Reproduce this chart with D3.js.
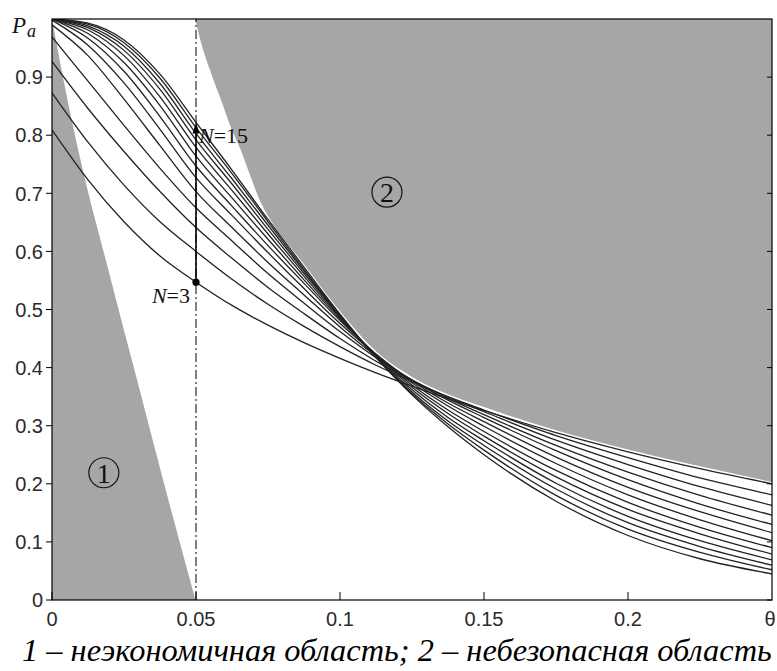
<!DOCTYPE html>
<html>
<head>
<meta charset="utf-8">
<script src="https://cdn.jsdelivr.net/npm/d3@7"></script>
<style>
  body { margin: 0; background: #fff; }
  svg { display: block; }
</style>
</head>
<body>
<svg width="777" height="671"></svg>
<script>
  // theta grid shared by all OC curves
  var theta = [0, 0.0125, 0.025, 0.0375, 0.05, 0.0625, 0.075, 0.0875, 0.1, 0.1125, 0.125, 0.1375, 0.15, 0.175, 0.2, 0.225, 0.25];

  // P_a, one list per sample size N
  var pa03 = [0.809, 0.723, 0.651, 0.592, 0.547, 0.507, 0.473, 0.443, 0.416, 0.391, 0.368, 0.346, 0.326, 0.288, 0.255, 0.226, 0.200];
  var pa04 = [0.873, 0.788, 0.714, 0.651, 0.600, 0.552, 0.509, 0.471, 0.436, 0.404, 0.376, 0.350, 0.327, 0.283, 0.245, 0.210, 0.181];
  var pa05 = [0.927, 0.846, 0.772, 0.703, 0.641, 0.588, 0.538, 0.493, 0.450, 0.411, 0.378, 0.349, 0.324, 0.275, 0.233, 0.195, 0.163];
  var pa06 = [0.969, 0.893, 0.817, 0.743, 0.675, 0.618, 0.562, 0.511, 0.462, 0.417, 0.379, 0.347, 0.319, 0.266, 0.220, 0.180, 0.146];
  var pa07 = [0.990, 0.937, 0.862, 0.782, 0.703, 0.641, 0.581, 0.525, 0.470, 0.420, 0.378, 0.344, 0.314, 0.257, 0.207, 0.165, 0.130];
  var pa08 = [0.998, 0.955, 0.890, 0.810, 0.727, 0.662, 0.598, 0.536, 0.476, 0.423, 0.377, 0.339, 0.307, 0.246, 0.194, 0.152, 0.116];
  var pa09 = [1.000, 0.967, 0.910, 0.832, 0.747, 0.678, 0.610, 0.545, 0.481, 0.423, 0.374, 0.334, 0.299, 0.235, 0.181, 0.138, 0.102];
  var pa10 = [1.000, 0.975, 0.925, 0.851, 0.764, 0.692, 0.621, 0.551, 0.484, 0.422, 0.370, 0.327, 0.290, 0.223, 0.168, 0.125, 0.090];
  var pa11 = [1.000, 0.981, 0.937, 0.866, 0.779, 0.705, 0.630, 0.557, 0.486, 0.421, 0.366, 0.321, 0.282, 0.212, 0.156, 0.114, 0.079];
  var pa12 = [1.000, 0.985, 0.946, 0.879, 0.792, 0.716, 0.638, 0.562, 0.488, 0.419, 0.362, 0.314, 0.274, 0.201, 0.144, 0.102, 0.069];
  var pa13 = [1.000, 0.988, 0.953, 0.889, 0.803, 0.725, 0.645, 0.566, 0.489, 0.418, 0.358, 0.308, 0.266, 0.191, 0.133, 0.092, 0.060];
  var pa14 = [1.000, 0.991, 0.959, 0.898, 0.813, 0.734, 0.651, 0.569, 0.490, 0.417, 0.355, 0.303, 0.258, 0.180, 0.122, 0.082, 0.052];
  var pa15 = [1.000, 0.993, 0.964, 0.905, 0.822, 0.740, 0.655, 0.573, 0.492, 0.418, 0.353, 0.298, 0.250, 0.170, 0.111, 0.071, 0.045];
  var curves = [pa03, pa04, pa05, pa06, pa07, pa08, pa09, pa10, pa11, pa12, pa13, pa14, pa15];

  // region 2 (unsafe) lower edge
  var unsafeTheta = [0.0497, 0.052, 0.055, 0.0587, 0.062, 0.0655, 0.069, 0.0725, 0.077, 0.0825, 0.0875, 0.094, 0.1, 0.1125, 0.125, 0.1375, 0.15, 0.175, 0.2, 0.225, 0.25];
  var unsafePa    = [1.0, 0.955, 0.91, 0.86, 0.815, 0.775, 0.728, 0.684, 0.645, 0.609, 0.578, 0.535, 0.497, 0.428, 0.384, 0.354, 0.332, 0.292, 0.259, 0.230, 0.203];

  // region 1 (uneconomic) right edge
  var uneconTheta = [0, 0.005, 0.01, 0.02, 0.03, 0.04, 0.0498];
  var uneconPa    = [1.0, 0.87, 0.755, 0.56, 0.37, 0.18, 0.0];

  var xTicks = [0, 0.05, 0.1, 0.15, 0.2];
  var yTicks = [0, 0.1, 0.2, 0.3, 0.4, 0.5, 0.6, 0.7, 0.8, 0.9];
  var nLow = 3, nHigh = 15, thetaMark = 0.05;
  var caption = "1 \u2013 неэкономичная область; 2 \u2013 небезопасная область";

  var svg = d3.select("svg");

  var x = d3.scaleLinear().domain([0, 0.25]).range([52, 772]);
  var y = d3.scaleLinear().domain([0, 1]).range([600, 19]);

  svg.append("defs").append("clipPath").attr("id", "plot")
    .append("rect")
      .attr("x", x(0)).attr("y", y(1))
      .attr("width", x(0.25) - x(0)).attr("height", y(0) - y(1));

  var g = svg.append("g").attr("clip-path", "url(#plot)");

  // shaded regions
  var unsafe = unsafeTheta.map(function(t, i) { return [t, unsafePa[i]]; });
  g.append("path")
    .datum(unsafe)
    .attr("fill", "#a6a6a6")
    .attr("d", d3.area()
        .curve(d3.curveMonotoneX)
        .x(function(d) { return x(d[0]); })
        .y0(y(1))
        .y1(function(d) { return y(d[1]); }));

  var unecon = uneconTheta.map(function(t, i) { return [t, uneconPa[i]]; });
  g.append("path")
    .datum(unecon)
    .attr("fill", "#a6a6a6")
    .attr("d", d3.area()
        .curve(d3.curveMonotoneX)
        .x(function(d) { return x(d[0]); })
        .y0(y(0))
        .y1(function(d) { return y(d[1]); }));

  // OC curves
  var line = d3.line()
      .curve(d3.curveMonotoneX)
      .x(function(d, i) { return x(theta[i]); })
      .y(function(d) { return y(d); });

  g.selectAll("path.oc")
    .data(curves)
    .enter().append("path")
      .attr("class", "oc")
      .attr("fill", "none")
      .attr("stroke", "#222")
      .attr("stroke-width", 1.3)
      .attr("d", line);

  // dash-dot line at theta = 0.05
  svg.append("line")
    .attr("x1", x(thetaMark)).attr("x2", x(thetaMark))
    .attr("y1", y(0)).attr("y2", y(1))
    .attr("stroke", "#000")
    .attr("stroke-width", 1)
    .attr("stroke-dasharray", "9,3,2,3");

  // arrow from N=3 to N=15
  var pLow = pa03[theta.indexOf(thetaMark)],
      pHigh = pa15[theta.indexOf(thetaMark)],
      ax = x(thetaMark);
  svg.append("line")
    .attr("x1", ax).attr("x2", ax)
    .attr("y1", y(pLow)).attr("y2", y(pHigh) + 6)
    .attr("stroke", "#000")
    .attr("stroke-width", 1.6);
  svg.append("path")
    .attr("fill", "#000")
    .attr("d", "M" + ax + "," + y(pHigh) + "L" + (ax - 3.5) + "," + (y(pHigh) + 11) + "L" + (ax + 3.5) + "," + (y(pHigh) + 11) + "Z");
  svg.append("circle")
    .attr("cx", ax).attr("cy", y(pLow)).attr("r", 3.6)
    .attr("fill", "#000");

  var serif = "'Liberation Serif', 'DejaVu Serif', serif";
  var sans = "'Liberation Sans', Arial, sans-serif";

  var t15 = svg.append("text")
    .attr("x", ax + 3).attr("y", y(pHigh) + 21)
    .attr("font-family", serif).attr("font-size", 22).attr("fill", "#111");
  t15.append("tspan").attr("font-style", "italic").text("N");
  t15.append("tspan").text("=" + nHigh);

  var t3 = svg.append("text")
    .attr("x", ax - 6).attr("y", y(pLow) + 21)
    .attr("text-anchor", "end")
    .attr("font-family", serif).attr("font-size", 22).attr("fill", "#111");
  t3.append("tspan").attr("font-style", "italic").text("N");
  t3.append("tspan").text("=" + nLow);

  // circled region numbers
  function circled(t, p, label) {
    svg.append("circle")
      .attr("cx", x(t)).attr("cy", y(p)).attr("r", 15)
      .attr("fill", "none").attr("stroke", "#111").attr("stroke-width", 1.2);
    svg.append("text")
      .attr("x", x(t)).attr("y", y(p) + 10)
      .attr("text-anchor", "middle")
      .attr("font-family", serif).attr("font-size", 28).attr("fill", "#111")
      .text(label);
  }
  circled(0.018, 0.219, "1");
  circled(0.1163, 0.702, "2");

  // frame
  svg.append("rect")
    .attr("x", x(0)).attr("y", y(1))
    .attr("width", x(0.25) - x(0)).attr("height", y(0) - y(1))
    .attr("fill", "none").attr("stroke", "#000").attr("stroke-width", 1.2);

  // y ticks: outward on the left, inward on the right
  yTicks.forEach(function(v) {
    svg.append("line")
      .attr("x1", x(0) - 6).attr("x2", x(0))
      .attr("y1", y(v)).attr("y2", y(v))
      .attr("stroke", "#000");
    svg.append("line")
      .attr("x1", x(0.25) - 5).attr("x2", x(0.25))
      .attr("y1", y(v)).attr("y2", y(v))
      .attr("stroke", "#000");
    svg.append("text")
      .attr("x", 43).attr("y", y(v)).attr("dy", "0.36em")
      .attr("text-anchor", "end")
      .attr("font-family", sans).attr("font-size", 20).attr("fill", "#2a2a2a")
      .text(v === 0 ? "0" : d3.format(".1f")(v));
  });

  // x ticks: inward from the bottom
  xTicks.forEach(function(v) {
    svg.append("line")
      .attr("x1", x(v)).attr("x2", x(v))
      .attr("y1", y(0) - 8).attr("y2", y(0))
      .attr("stroke", "#000");
    svg.append("text")
      .attr("x", x(v)).attr("y", 626)
      .attr("text-anchor", "middle")
      .attr("font-family", sans).attr("font-size", 20).attr("fill", "#2a2a2a")
      .text(String(+v.toFixed(2)));
  });
  svg.append("text")
    .attr("x", x(0.25) - 2).attr("y", 626)
    .attr("text-anchor", "middle")
    .attr("font-family", sans).attr("font-size", 20).attr("fill", "#2a2a2a")
    .text("\u03b8");

  // P_a axis label
  var pa = svg.append("text")
    .attr("x", 12).attr("y", 33)
    .attr("font-family", serif).attr("font-style", "italic")
    .attr("font-size", 23).attr("fill", "#111");
  pa.append("tspan").text("P");
  pa.append("tspan").attr("font-size", 18).attr("dy", 4).attr("dx", 1).text("a");

  // caption under the chart, sized to span the figure
  var cap = svg.append("text")
    .attr("x", 22).attr("y", 661)
    .attr("font-family", serif).attr("font-style", "italic")
    .attr("font-size", 29).attr("fill", "#000")
    .text(caption);
  var len = cap.node().getComputedTextLength();
  cap.attr("font-size", 29 * 750 / len);
</script>
</body>
</html>
